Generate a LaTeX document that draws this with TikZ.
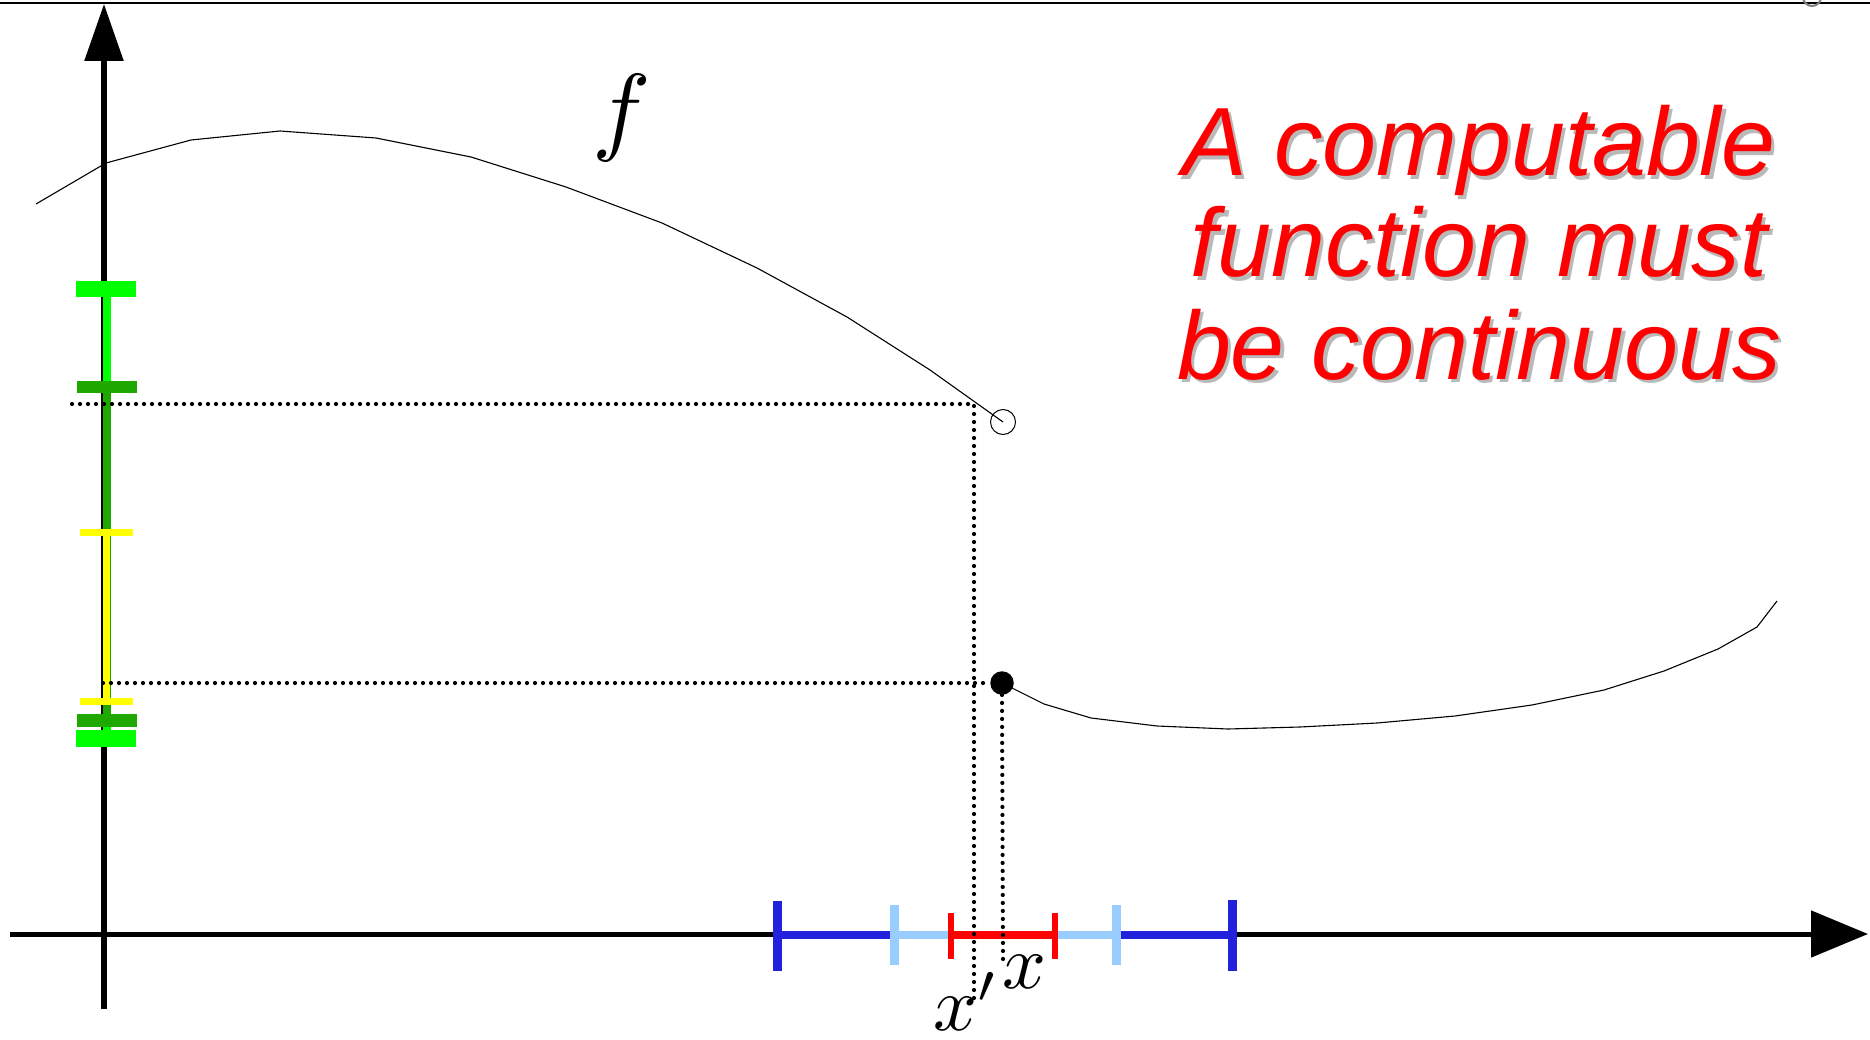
\documentclass[tikz,border=0pt]{standalone}
\usepackage{fontspec}
\newfontfamily\redfont{Liberation Sans}
\usetikzlibrary{arrows.meta}
\definecolor{brgreen}{RGB}{0,255,0}
\definecolor{dkgreen}{RGB}{30,168,0}
\definecolor{ylw}{RGB}{255,255,0}
\definecolor{dkblue}{RGB}{34,34,221}
\definecolor{ltblue}{RGB}{153,204,255}
\definecolor{ivred}{RGB}{255,0,0}
\definecolor{shadowgray}{RGB}{185,185,185}
\begin{document}
\begin{tikzpicture}[x=1pt,y=-1pt,
  axisline/.style={line width=5.5pt},
  curveline/.style={line width=1.1pt},
  dotline/.style={line width=4.2pt, line cap=round, dash pattern=on 0pt off 8pt},
  bigtext/.style={font=\redfont\itshape\fontsize{97}{101}\selectfont, anchor=base, inner sep=0pt},
  mathlabel/.style={inner sep=0pt},
]
\useasboundingbox (0,0) rectangle (1870,1040);
% top border line and gray artefact
\begin{scope}
  \clip (0,0) rectangle (1870,1040);
  \draw[line width=2pt] (0,2.7) -- (1870,2.7);
  \draw[gray, line width=2pt] (1812,-3) circle (9);
\end{scope}

% axes
\coordinate (ybot) at (104,1009);
\coordinate (ytop) at (104,4);
\coordinate (xleft) at (10,934);
\coordinate (xright) at (1868,934);
\draw[axisline, -{Triangle[length=57pt,width=38pt]}] (ybot) -- (ytop);
\draw[line width=5pt, -{Triangle[length=57pt,width=46pt]}] (xleft) -- (xright);

% nested intervals on the y axis
\fill[brgreen] (102.8,289.5) rectangle (110.8,738.5);
\fill[brgreen] (76,281.5) rectangle (136,297.5);
\fill[brgreen] (76,730) rectangle (136,747);
\fill[dkgreen] (102.6,387) rectangle (110.8,720);
\fill[dkgreen] (77,381) rectangle (137,393);
\fill[dkgreen] (77,714) rectangle (137,726.5);
\fill[ylw] (103.4,532) rectangle (110,701);
\fill[ylw] (80,529) rectangle (133,536);
\fill[ylw] (80,698) rectangle (133,704.5);

% nested intervals on the x axis
\fill[dkblue] (777,931) rectangle (1232,939);
\fill[dkblue] (772.5,900.5) rectangle (782,971);
\fill[dkblue] (1227.5,900) rectangle (1237,971);
\fill[ltblue] (894,931) rectangle (1116,939);
\fill[ltblue] (890,905) rectangle (899,965);
\fill[ltblue] (1111.5,905) rectangle (1120.5,965);
\fill[ivred] (951,931) rectangle (1055,939);
\fill[ivred] (948.3,913) rectangle (953.7,959);
\fill[ivred] (1052.3,913) rectangle (1057.7,959);

% jump points
\node[circle, draw, line width=1pt, minimum size=25pt, inner sep=0pt] (open) at (1003,422) {};
\node[circle, fill, minimum size=23.5pt, inner sep=0pt] (closed) at (1002,683) {};

% dotted guide lines
\coordinate (hu0) at (72,404);
\coordinate (hu1) at (974,404);
\coordinate (vu1) at (974,998);
\coordinate (hl0) at (103,683);
\coordinate (vl1) at (1003,960);
\draw[dotline] (hu0) -- (hu1) -- (vu1);
\draw[dotline] (hl0) -- (closed.west);
\draw[dotline] (closed.south) -- (vl1);

% the function f
\draw[curveline] (36,204) -- (106,163) -- (191,140) -- (280,131) -- (376,138)
  -- (471,157) -- (566,187) -- (662,223) -- (757,268) -- (847,317) -- (930,370)
  -- (open.center);
\draw[curveline] (closed.center) -- (1044,704) -- (1091,718) -- (1157,726) -- (1228,729)
  -- (1300,727) -- (1377,723) -- (1455,716) -- (1532,705) -- (1604,690) -- (1664,671)
  -- (1718,649) -- (1757,627) -- (1777,601);

% labels
\node[mathlabel, anchor=base] (flabel) at (622,143) {\scalebox{9.8}{$f$}};
\node[mathlabel, anchor=base] (xlabel) at (1024,988) {\scalebox{7.7}{$x$}};
\node[mathlabel, anchor=base west] (xplabel) at (933,1030) {\scalebox{7.7}{$x'$}};

% red caption with shadow
\node[bigtext, shadowgray] (s1) at (1482.5,179.5) {A computable};
\node[bigtext, shadowgray] (s2) at (1482.5,280.5) {function must};
\node[bigtext, shadowgray] (s3) at (1482.5,382.5) {be continuous};
\node[bigtext, ivred] (t1) at (1479,176) {A computable};
\node[bigtext, ivred] (t2) at (1479,277) {function must};
\node[bigtext, ivred] (t3) at (1479,379) {be continuous};
\end{tikzpicture}
\end{document}
